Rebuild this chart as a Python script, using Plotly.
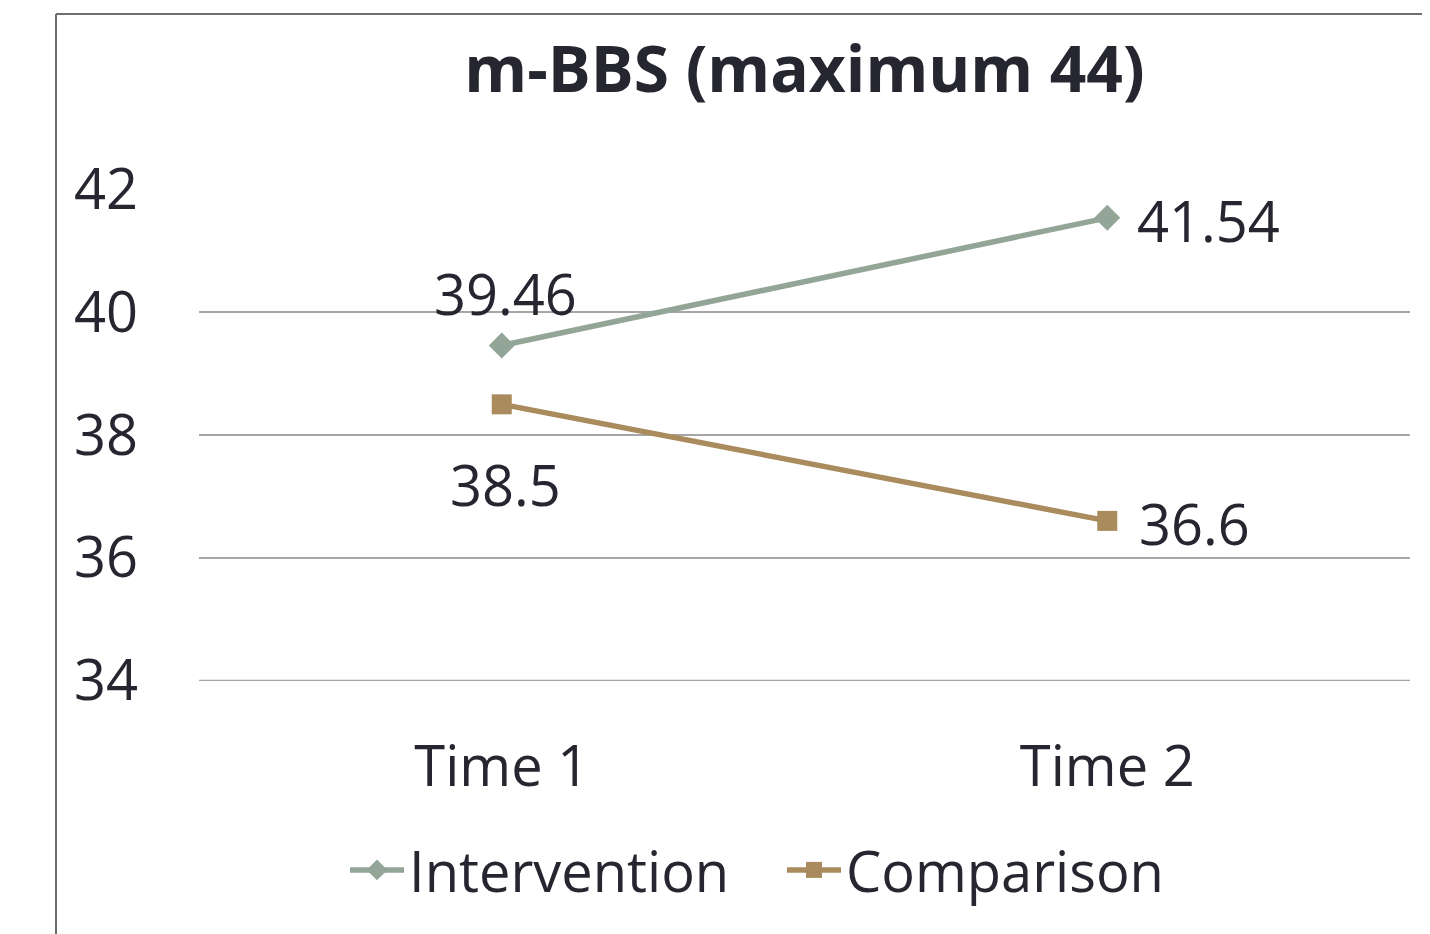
import plotly.graph_objects as go

categories = ["Time 1", "Time 2"]
intervention = [39.46, 41.54]
comparison = [38.5, 36.6]
y_ticks = [34, 36, 38, 40, 42]

FONT = "Open Sans"
TXT = "#262631"
C_INT = "#93A597"
C_CMP = "#A98B5D"
GRID = "#A6A6A6"
FS = 56

# page body adds an 8px margin; figure coords = reference coords - 8
OFF = 8
W, H = 1430 - OFF, 934 - OFF
L, T, B = 199 - OFF, 189 - OFF, 934 - 681
R = W - (1410 - OFF)
pw = W - L - R
ph = H - T - B

fig = go.Figure()
fig.add_trace(go.Scatter(
    x=categories, y=intervention, name="Intervention", mode="lines+markers",
    line=dict(color=C_INT, width=5.5), marker=dict(symbol="diamond", size=20, color=C_INT),
    cliponaxis=False,
))
fig.add_trace(go.Scatter(
    x=categories, y=comparison, name="Comparison", mode="lines+markers",
    line=dict(color=C_CMP, width=5.5), marker=dict(symbol="square", size=20, color=C_CMP),
    cliponaxis=False,
))

# data labels
label_shifts = {
    "Intervention": [dict(xanchor="center", xshift=4, yshift=52), dict(xanchor="left", xshift=28, yshift=-2)],
    "Comparison": [dict(xanchor="center", xshift=4, yshift=-80), dict(xanchor="left", xshift=30, yshift=-2)],
}
for name, vals in (("Intervention", intervention), ("Comparison", comparison)):
    for i, (c, v) in enumerate(zip(categories, vals)):
        s = label_shifts[name][i]
        fig.add_annotation(x=c, y=v, text=str(v), showarrow=False, yanchor="middle",
                           xanchor=s["xanchor"], xshift=s["xshift"], yshift=s["yshift"],
                           font=dict(family=FONT, size=FS, color=TXT))

fig.update_layout(
    width=W, height=H, margin=dict(l=L, r=R, t=T, b=B),
    paper_bgcolor="white", plot_bgcolor="white",
    font=dict(family=FONT, color=TXT),
    title=dict(text="<b>m-BBS (maximum 44)</b>", x=0.5, xref="paper", xanchor="center",
               y=1 - (70 - OFF) / H, yanchor="middle", font=dict(family=FONT, size=64, color=TXT)),
    showlegend=True,
    legend=dict(orientation="h", x=(345 - OFF - L) / pw, xanchor="left",
                y=(ph - (870 - 189)) / ph, yanchor="middle",
                font=dict(family=FONT, size=FS, color=TXT), itemwidth=54, entrywidth=368,
                traceorder="normal"),
    xaxis=dict(range=[-0.5, 1.5], showgrid=False, showline=False, zeroline=False, ticks="",
               tickfont=dict(family=FONT, size=FS, color=TXT), ticklabelstandoff=48),
    yaxis=dict(range=[33.99, 42.01], tickvals=y_ticks, showgrid=True, gridcolor=GRID, gridwidth=1.5,
               zeroline=False, showline=False, ticks="",
               tickfont=dict(family=FONT, size=FS, color=TXT), ticklabelstandoff=60),
)

# bottom gridline (at lowest tick)
fig.add_shape(type="line", xref="paper", yref="y", x0=0, x1=1, y0=y_ticks[0], y1=y_ticks[0],
              line=dict(color=GRID, width=1.5), layer="below")

# outer chart-area border (left and top edges visible)
bx = (56 - 199) / pw
by = (681 - 14) / ph
fig.add_shape(type="line", xref="paper", yref="paper",
              x0=bx, x1=(W + 5 - L) / pw, y0=by, y1=by,
              line=dict(color="#6E6E6E", width=2))
fig.add_shape(type="line", xref="paper", yref="paper",
              x0=bx, x1=bx, y0=by, y1=-(B + 5) / ph,
              line=dict(color="#6E6E6E", width=2))

fig.write_html("out.html")
